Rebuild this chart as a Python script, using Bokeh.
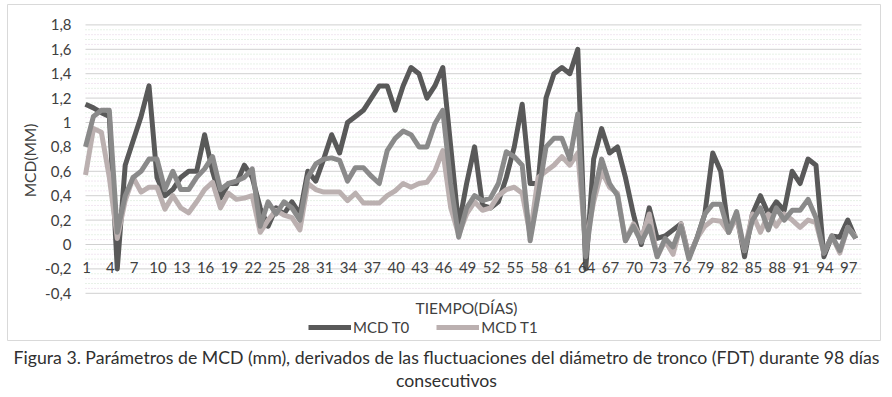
import numpy as np
from bokeh.plotting import figure
from bokeh.models import Legend, LegendItem, Range1d
from bokeh.embed import file_html
from bokeh.resources import INLINE
from bokeh.core.properties import value

days = list(range(1, 99))

mcd_t0 = [1.15, 1.12, 1.08, 1.05, -0.2, 0.65, 0.85, 1.05, 1.3, 0.55,
          0.4, 0.45, 0.55, 0.6, 0.6, 0.9, 0.6, 0.38, 0.5, 0.5,
          0.65, 0.55, 0.3, 0.15, 0.3, 0.25, 0.35, 0.25, 0.6, 0.52,
          0.7, 0.9, 0.75, 1.0, 1.05, 1.1, 1.2, 1.3, 1.3, 1.1,
          1.3, 1.45, 1.4, 1.2, 1.3, 1.45, 0.8, 0.15, 0.5, 0.8,
          0.32, 0.3, 0.35, 0.55, 0.8, 1.15, 0.5, 0.5, 1.2, 1.4,
          1.45, 1.4, 1.6, -0.2, 0.7, 0.95, 0.75, 0.8, 0.55, 0.25,
          0.0, 0.3, 0.05, 0.07, 0.12, 0.17, -0.1, 0.05, 0.25, 0.75,
          0.6, 0.1, 0.25, -0.1, 0.25, 0.4, 0.25, 0.35, 0.28, 0.6,
          0.5, 0.7, 0.65, -0.1, 0.07, 0.06, 0.2, 0.05]

mcd_t1 = [0.57, 0.95, 0.92, 0.55, 0.05, 0.36, 0.55, 0.43, 0.47, 0.47,
          0.29, 0.4, 0.3, 0.26, 0.35, 0.45, 0.51, 0.3, 0.42, 0.37,
          0.38, 0.4, 0.1, 0.2, 0.28, 0.24, 0.22, 0.12, 0.5, 0.45,
          0.43, 0.43, 0.43, 0.36, 0.42, 0.34, 0.34, 0.34, 0.4, 0.44,
          0.5, 0.47, 0.5, 0.51, 0.6, 0.77, 0.3, 0.08, 0.25, 0.35,
          0.28, 0.3, 0.4, 0.45, 0.47, 0.42, 0.08, 0.55, 0.6, 0.65,
          0.72, 0.65, 0.75, 0.0, 0.35, 0.6, 0.47, 0.42, 0.03, 0.17,
          0.05, 0.25, -0.1, 0.03, -0.08, 0.17, -0.1, 0.05, 0.15, 0.2,
          0.19, 0.1, 0.22, -0.05, 0.25, 0.1, 0.25, 0.15, 0.25, 0.2,
          0.14, 0.2, 0.18, -0.07, 0.07, -0.07, 0.14, 0.06]

mcd_t2 = [0.8, 1.05, 1.1, 1.1, 0.1, 0.4, 0.55, 0.6, 0.7, 0.7,
          0.45, 0.6, 0.45, 0.45, 0.55, 0.62, 0.72, 0.45, 0.5, 0.52,
          0.55, 0.62, 0.15, 0.35, 0.25, 0.35, 0.3, 0.2, 0.55, 0.66,
          0.7, 0.71, 0.69, 0.52, 0.63, 0.63, 0.56, 0.5, 0.77, 0.87,
          0.93, 0.9, 0.8, 0.8, 0.99, 1.1, 0.5, 0.06, 0.3, 0.4,
          0.36, 0.38, 0.5, 0.76, 0.72, 0.65, 0.03, 0.4, 0.8, 0.87,
          0.87, 0.7, 1.07, -0.1, 0.4, 0.7, 0.5, 0.4, 0.03, 0.15,
          0.02, 0.15, -0.1, 0.05, -0.02, 0.15, -0.12, 0.05, 0.25, 0.33,
          0.33, 0.1, 0.27, -0.05, 0.2, 0.3, 0.12, 0.3, 0.2, 0.28,
          0.28, 0.37, 0.22, -0.07, 0.07, -0.05, 0.14, 0.05]

x_tick_days = list(range(1, 99, 3))
x_tick_labels = [str(d) for d in x_tick_days]
y_ticks = [-0.4, -0.2, 0.0, 0.2, 0.4, 0.6, 0.8, 1.0, 1.2, 1.4, 1.6, 1.8]
y_tick_labels = ["-0,4", "-0,2", "0", "0,2", "0,4", "0,6", "0,8", "1", "1,2", "1,4", "1,6", "1,8"]
legend_labels = ["MCD T0", "MCD T1"]
x_title = "TIEMPO(DÍAS)"
y_title = "MCD(MM)"
caption_lines = ["Figura 3. Parámetros de MCD (mm), derivados de las fluctuaciones del diámetro de tronco (FDT) durante 98 días",
                 "consecutivos"]

FONT = "Lato"
TXT = "#404040"
C_T0 = "#595959"
C_T1 = "#bbb0b0"
C_T2 = "#8a8a8a"

# ---- layout (pixels) ----
W, H = 886, 393
GRID_L, GRID_R = 85, 861          # gridline extent, px
DAY1_PX, PX_PER_DAY = 85.0, 7.94   # pixel column of day 1, pixels per day
Y0_PX, PX_PER_UNIT = 244.0, 122.0  # pixel row of value 0, pixels per unit

x_start = 1.0 - DAY1_PX / PX_PER_DAY
x_end = x_start + W / PX_PER_DAY
y_end = Y0_PX / PX_PER_UNIT
y_start = y_end - H / PX_PER_UNIT


def px2x(px):
    return x_start + px / PX_PER_DAY


def px2y(py):
    return y_end - py / PX_PER_UNIT


p = figure(width=W, height=H, output_backend="svg", toolbar_location=None,
           x_range=Range1d(x_start, x_end), y_range=Range1d(y_start, y_end),
           x_axis_type=None, y_axis_type=None, min_border=0)
p.background_fill_color = "white"
p.border_fill_color = "white"
p.outline_line_color = None
p.grid.visible = False

# chart border
p.quad(left=[px2x(7)], right=[px2x(880)], top=[px2y(4)], bottom=[px2y(340)],
       fill_alpha=0, line_color="#d9d9d9", line_width=1)

# minor gridlines (dotted)
minor = [float(v) for v in np.round(np.arange(-0.4, 1.8001, 0.04), 2)
         if abs(v * 5 - round(v * 5)) > 1e-6]
minor_a = minor[0::2]
minor_b = minor[1::2]
p.segment(x0=[px2x(GRID_L)] * len(minor_a), x1=[px2x(GRID_R)] * len(minor_a),
          y0=minor_a, y1=minor_a, line_color="#e3cfe3", line_width=1, line_dash="1 2")
p.segment(x0=[px2x(GRID_L)] * len(minor_b), x1=[px2x(GRID_R)] * len(minor_b),
          y0=minor_b, y1=minor_b, line_color="#cfe3cf", line_width=1, line_dash="1 2")
# major gridlines
p.segment(x0=[px2x(GRID_L)] * len(y_ticks), x1=[px2x(GRID_R)] * len(y_ticks),
          y0=y_ticks, y1=y_ticks, line_color="#d0d0d0", line_width=1)

r0 = p.line(days, mcd_t0, line_color=C_T0, line_width=5, line_join="round")
r1 = p.line(days, mcd_t1, line_color=C_T1, line_width=5, line_join="round")
r2 = p.line(days, mcd_t2, line_color=C_T2, line_width=5, line_join="round")

# y tick labels
p.text(x=[px2x(71)] * len(y_ticks), y=y_ticks, text=y_tick_labels,
       text_font=value(FONT), text_font_size="15px", text_color=TXT,
       text_align="right", text_baseline="middle")
# x tick labels (next to the zero line)
p.text(x=x_tick_days, y=[0.0] * len(x_tick_days), text=x_tick_labels,
       text_font=value(FONT), text_font_size="15px", text_color=TXT,
       text_align="center", text_baseline="middle", x_offset=1, y_offset=23)
# axis titles
p.text(x=[px2x(29)], y=[px2y(160)], text=[y_title], angle=np.pi / 2,
       text_font=value(FONT), text_font_size="15.5px", text_color=TXT,
       text_align="center", text_baseline="middle")
p.text(x=[px2x(466)], y=[px2y(307)], text=[x_title],
       text_font=value(FONT), text_font_size="15.5px", text_color=TXT,
       text_align="center", text_baseline="middle")
# caption
p.text(x=[px2x(446)] * 2, y=[px2y(357), px2y(380)], text=caption_lines,
       text_font=value(FONT), text_font_size="17.7px", text_color="#303030",
       text_align="center", text_baseline="middle")

legend = Legend(items=[LegendItem(label=legend_labels[0], renderers=[r0]),
                       LegendItem(label=legend_labels[1], renderers=[r1])],
                orientation="horizontal", location=(308, H - 336),
                glyph_width=43, glyph_height=12, label_standoff=2, spacing=27,
                padding=0, margin=0, border_line_color=None, background_fill_alpha=0,
                label_text_font=FONT, label_text_font_size="15px", label_text_color=TXT)
p.add_layout(legend, "center")

open("out.html", "w").write(file_html(p, INLINE))
